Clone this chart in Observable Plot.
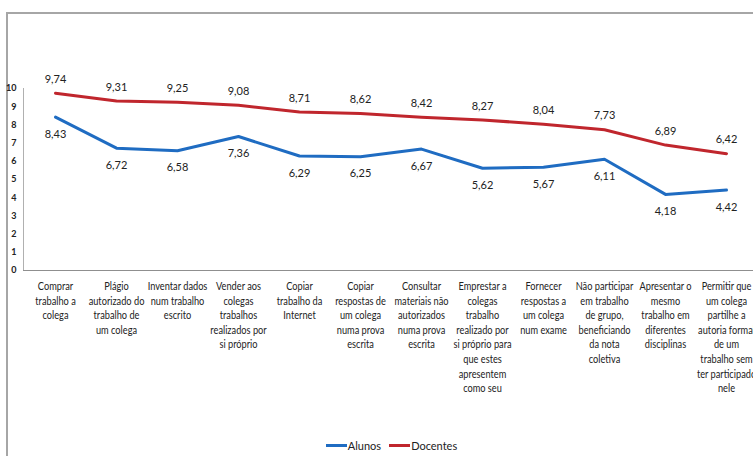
<!DOCTYPE html>
<html>
<head>
<meta charset="utf-8">
<script src="https://cdn.jsdelivr.net/npm/d3@7"></script>
<script src="https://cdn.jsdelivr.net/npm/@observablehq/plot@0.6"></script>
<style>
  html, body { margin: 0; padding: 0; background: #fff; overflow: hidden; }
  #wrap { position: relative; width: 753px; height: 456px; overflow: hidden; font-family: Lato, "Liberation Sans", sans-serif; }
  #border { position: absolute; left: 6px; top: 12px; width: 800px; height: 460px; border-left: 2px solid #a6a6a6; border-top: 2px solid #a6a6a6; box-sizing: border-box; }
  #chart { position: absolute; left: 0; top: 0; z-index: 1; }
  #legend { position: absolute; top: 439px; left: 0; width: 753px; display: flex; justify-content: center; gap: 8px; font-size: 11px; color: #222; box-sizing: border-box; padding-left: 30px; }
  #legend .item { display: flex; align-items: center; }
  #legend .sw { width: 21px; height: 3px; margin-right: 1px; }
</style>
</head>
<body>
<div id="wrap">
  <div id="border"></div>
  <div id="chart"></div>
  <div id="legend"></div>
</div>
<script>
// Behaviour categories (x axis), with the line breaks used in the labels
const categories = [
  "Comprar\ntrabalho a\ncolega",
  "Plágio\nautorizado do\ntrabalho de\num colega",
  "Inventar dados\nnum trabalho\nescrito",
  "Vender aos\ncolegas\ntrabalhos\nrealizados por\nsi próprio",
  "Copiar\ntrabalho da\nInternet",
  "Copiar\nrespostas de\num colega\nnuma prova\nescrita",
  "Consultar\nmateriais não\nautorizados\nnuma prova\nescrita",
  "Emprestar a\ncolegas\ntrabalho\nrealizado por\nsi próprio para\nque estes\napresentem\ncomo seu",
  "Fornecer\nrespostas a\num colega\nnum exame",
  "Não participar\nem trabalho\nde grupo,\nbeneficiando\nda nota\ncoletiva",
  "Apresentar o\nmesmo\ntrabalho em\ndiferentes\ndisciplinas",
  "Permitir que\num colega\npartilhe a\nautoria formal\nde um\ntrabalho sem\nter participado\nnele"
];

// Mean seriousness scores per group
const alunos   = [8.43, 6.72, 6.58, 7.36, 6.29, 6.25, 6.67, 5.62, 5.67, 6.11, 4.18, 4.42];
const docentes = [9.74, 9.31, 9.25, 9.08, 8.71, 8.62, 8.42, 8.27, 8.04, 7.73, 6.89, 6.42];

const yTicks = [0, 1, 2, 3, 4, 5, 6, 7, 8, 9, 10];

const seriesNames = ["Alunos", "Docentes"];
const seriesColors = ["#1f6cc2", "#c0262d"];

const rowsA = categories.map((c, i) => ({cat: c, value: alunos[i], series: "Alunos"}));
const rowsD = categories.map((c, i) => ({cat: c, value: docentes[i], series: "Docentes"}));
const fmt = v => v.toFixed(2).replace(".", ",");
const font = 'Lato, "Liberation Sans", sans-serif';

const xRange = [23, 757];
const yExtent = [yTicks[0], yTicks[yTicks.length - 1]];

const chart = Plot.plot({
  width: 753,
  height: 430,
  marginLeft: 23,
  marginRight: 0,
  marginTop: 88,
  marginBottom: 160,
  x: {type: "point", domain: categories, range: xRange, padding: 0.5, axis: null},
  y: {domain: yExtent, axis: null},
  color: {domain: seriesNames, range: seriesColors},
  style: {fontFamily: font, background: "transparent", overflow: "visible"},
  marks: [
    Plot.ruleY([0], {stroke: "#8f8f8f", strokeWidth: 1.2}),
    Plot.axisY({ticks: yTicks, label: null, tickSize: 0, tickPadding: 7, fontSize: 9, fontWeight: "bold", fill: "#222", tickFormat: d => String(d)}),
    Plot.line(rowsA, {x: "cat", y: "value", stroke: "series", strokeWidth: 3}),
    Plot.line(rowsD, {x: "cat", y: "value", stroke: "series", strokeWidth: 3}),
    Plot.text(rowsD, {x: "cat", y: "value", text: d => fmt(d.value), dy: -14, fontSize: 11, fill: "#222"}),
    Plot.text(rowsA, {x: "cat", y: "value", text: d => fmt(d.value), dy: 17, fontSize: 11, fill: "#222"}),
    Plot.text(categories, {x: d => d, text: d => d, frameAnchor: "bottom", lineAnchor: "top", dy: 9, lineHeight: 1.33, fontSize: 11, fill: "#222"})
  ]
});

// Value axis line: drawn from the y scale's range at the left edge of the plot
const ys = chart.scale("y");
const [yBottom, yTop] = [ys.apply(yExtent[0]), ys.apply(yExtent[1])];
d3.select(chart).append("line")
  .attr("x1", xRange[0] + 0.5).attr("x2", xRange[0] + 0.5)
  .attr("y1", yBottom).attr("y2", yTop)
  .attr("stroke", "#b0b0b0").attr("stroke-width", 1);

// Narrow the category labels horizontally so neighbouring labels do not collide
const textGroups = chart.querySelectorAll('g[aria-label="text"]');
const catGroup = textGroups[textGroups.length - 1];
if (catGroup) {
  catGroup.querySelectorAll("text").forEach(el => {
    const t = el.getAttribute("transform") || "";
    el.setAttribute("transform", t + " scale(0.84,1)");
  });
}

document.getElementById("chart").appendChild(chart);

// Legend below the chart
const legend = d3.select("#legend");
seriesNames.forEach((name, i) => {
  const item = legend.append("div").attr("class", "item");
  item.append("div").attr("class", "sw").style("background", seriesColors[i]);
  item.append("span").text(name);
});
</script>
</body>
</html>
